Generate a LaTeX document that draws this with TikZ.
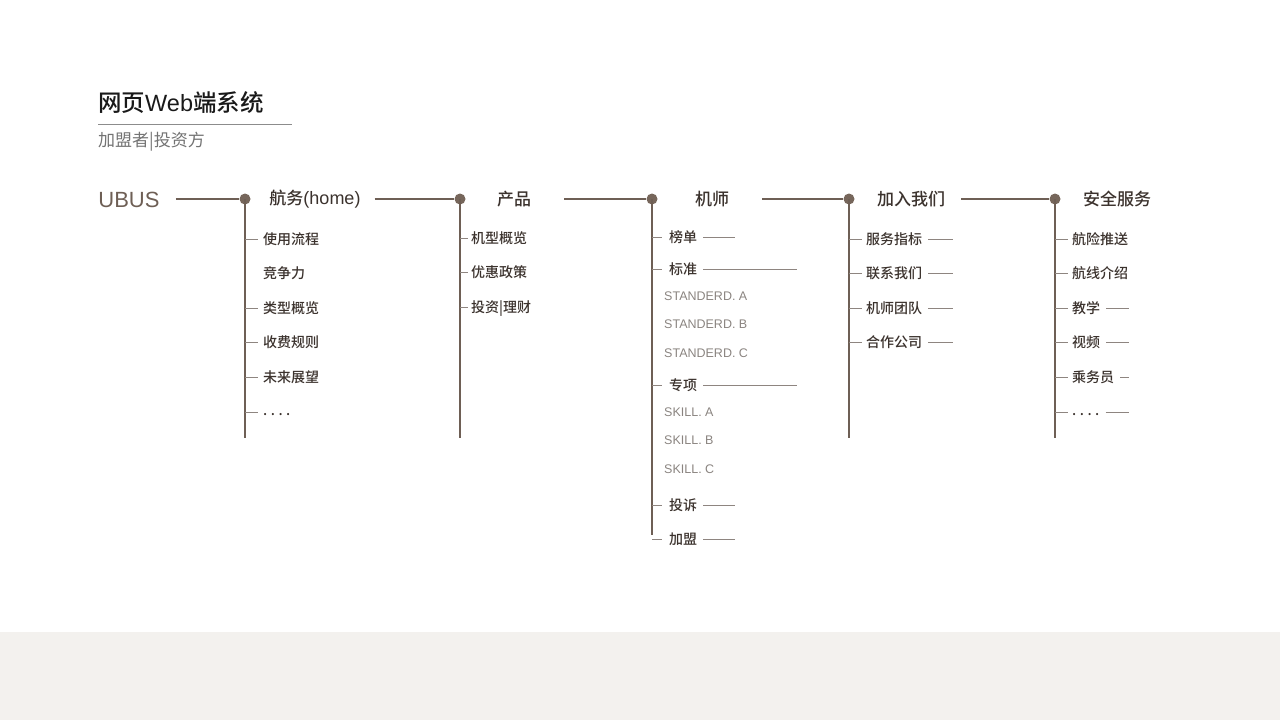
\documentclass[tikz,border=0pt]{standalone}
\usepackage{fontspec}
\setmainfont{Liberation Sans}
\newfontfamily\cjk{Noto Sans CJK SC Medium}
\newfontfamily\cjklight{Noto Sans CJK SC}
\usetikzlibrary{positioning}
\definecolor{inkc}{HTML}{3B322D}
\definecolor{trunkc}{HTML}{6E5F55}
\definecolor{hubc}{HTML}{76665B}
\definecolor{twigc}{HTML}{8E8580}
\definecolor{codec}{HTML}{8A8480}
\definecolor{bandc}{HTML}{F3F1EE}
\newcommand{\etc}{\raisebox{1.3pt}{.\hspace{3.5pt}.\hspace{3.5pt}.\hspace{3.5pt}.}}
\tikzset{
    hub/.style = {circle, fill = hubc, inner sep = 0pt, minimum size = 11pt},
    head/.style = {inner sep = 0pt, font = \cjk\fontsize{17}{17}\selectfont, text = inkc},
    leaf/.style = {anchor = west, inner sep = 0pt, text height = 11.5pt, text depth = 1.5pt,
        font = \cjk\fontsize{14}{14}\selectfont, text = inkc},
    code/.style = {anchor = west, inner sep = 0pt, font = \fontsize{12.5}{12.5}\selectfont, text = codec},
    stem/.style = {line width = 1.4pt, draw = trunkc},
    twig/.style = {line width = 0.9pt, draw = twigc}
}
\begin{document}
\begin{tikzpicture}[x = 1pt, y = -1pt]
        \useasboundingbox (0,0) rectangle (1280,720);
        \fill[bandc] (0,632) rectangle (1280,720);
        % title
        \node[anchor = west, inner sep = 0pt, font = \cjk\fontsize{23.5}{23.5}\selectfont, text = black!90] (title) at (98,103) {网页{\rmfamily Web}端系统};
        \node[anchor = west, inner sep = 0pt, font = \cjklight\fontsize{17}{17}\selectfont, text = black!55] (subtitle) at (98,142) {加盟者|投资方};
        \coordinate (rule-l) at (98,124);
        \coordinate (rule-r) at (292,124);
        \draw[line width = 0.8pt, draw = black!45] (rule-l) -- (rule-r);
        % main line
        \node[inner sep = 0pt, font = \fontsize{22}{22}\selectfont, text = trunkc] (ubus) at (129,200) {UBUS};
        \node[hub] (h1) at (245,199) {};
        \node[hub] (h2) at (460,199) {};
        \node[hub] (h3) at (652,199) {};
        \node[hub] (h4) at (849,199) {};
        \node[hub] (h5) at (1055,199) {};
        \node[head] (t1) at (315,199) {航务{\rmfamily\fontsize{18}{18}\selectfont(home)}};
        \node[head] (t2) at (514,199) {产品};
        \node[head] (t3) at (712,199) {机师};
        \node[head] (t4) at (911,199) {加入我们};
        \node[head] (t5) at (1117,199) {安全服务};
        \draw[stem, shorten <= 16pt] (ubus.east |- h1) -- (h1);
        \draw[stem, shorten <= 14pt] (t1.east |- h2) -- (h2);
        \draw[stem, shorten <= 33pt] (t2.east |- h3) -- (h3);
        \draw[stem, shorten <= 33pt] (t3.east |- h4) -- (h4);
        \draw[stem, shorten <= 16pt] (t4.east |- h5) -- (h5);
        % stems
        \coordinate (e1) at (245,438);
        \coordinate (e2) at (460,438);
        \coordinate (e3) at (652,535);
        \coordinate (e4) at (849,438);
        \coordinate (e5) at (1055,438);
        \foreach \c in {1, ..., 5}
            \draw[stem] (h\c.center) -- (e\c);
        % 航务
        \foreach \t/\y/\k [count = \i] in {使用流程/239/1, 竞争力/273/0, 类型概览/308/1, 收费规则/342/1, 未来展望/377/1, \etc/412/1} {
            \node[leaf] (a\i) at (263,\y) {\t};
            \coordinate (a\i-s) at (245,\y);
            \ifnum\k=1 \draw[twig, shorten > = 5pt] (a\i-s) -- (a\i.west); \fi
        }
        % 产品
        \foreach \t/\y [count = \i] in {机型概览/238, 优惠政策/272, 投资|理财/307} {
            \node[leaf] (b\i) at (471,\y) {\t};
            \coordinate (b\i-s) at (460,\y);
            \draw[twig, shorten > = 3pt] (b\i-s) -- (b\i.west);
        }
        % 机师
        \foreach \t/\y/\r [count = \i] in {榜单/237/735, 标准/269/797, 专项/385/797, 投诉/505/735, 加盟/539/735} {
            \node[leaf] (c\i) at (669,\y) {\t};
            \coordinate (c\i-s) at (652,\y);
            \coordinate (c\i-r) at (\r,\y);
            \draw[twig, shorten > = 7pt] (c\i-s) -- (c\i.west);
            \draw[twig, shorten < = 6pt] (c\i.east) -- (c\i-r);
        }
        \foreach \t/\y [count = \i] in {STANDERD. A/296, STANDERD. B/324, STANDERD. C/353, SKILL. A/412, SKILL. B/440, SKILL. C/469}
            \node[code] (s\i) at (664,\y) {\t};
        % 加入我们
        \foreach \t/\y [count = \i] in {服务指标/239, 联系我们/273, 机师团队/308, 合作公司/342} {
            \node[leaf] (d\i) at (866,\y) {\t};
            \coordinate (d\i-s) at (849,\y);
            \coordinate (d\i-r) at (953,\y);
            \draw[twig, shorten > = 4pt] (d\i-s) -- (d\i.west);
            \draw[twig, shorten < = 6pt] (d\i.east) -- (d\i-r);
        }
        % 安全服务
        \foreach \t/\y/\r [count = \i] in {航险推送/239/0, 航线介绍/273/0, 教学/308/1129, 视频/342/1129, 乘务员/377/1129, \etc/412/1129} {
            \node[leaf] (f\i) at (1072,\y) {\t};
            \coordinate (f\i-s) at (1055,\y);
            \draw[twig, shorten > = 4pt] (f\i-s) -- (f\i.west);
            \ifnum\r>0
                \coordinate (f\i-r) at (\r,\y);
                \draw[twig, shorten < = 6pt] (f\i.east) -- (f\i-r);
            \fi
        }
    \end{tikzpicture}
\end{document}
